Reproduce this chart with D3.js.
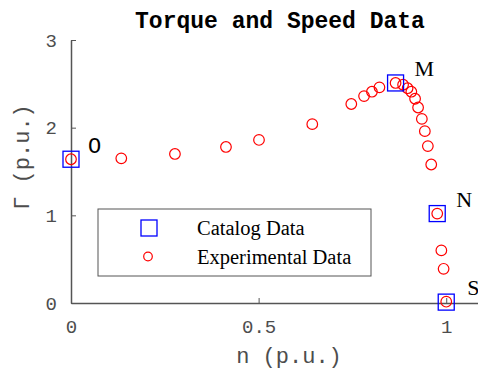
<!DOCTYPE html>
<html>
<head>
<meta charset="utf-8">
<script src="https://cdn.jsdelivr.net/npm/d3@7"></script>
<style>
  body { margin: 0; background: #fff; }
  svg { display: block; }
</style>
</head>
<body>
<div class="canvas"></div>
<script>
// experimental measurements (speed n, torque Γ, both p.u.)
const expSpeed = [0, 0.134, 0.277, 0.413, 0.501, 0.643, 0.747, 0.781, 0.802, 0.822,
                  0.865, 0.885, 0.897, 0.907, 0.917, 0.925, 0.935, 0.943, 0.951, 0.960,
                  0.976, 0.987, 0.993, 1.0];
const expTorque = [1.64, 1.65, 1.70, 1.78, 1.86, 2.04, 2.27, 2.36, 2.41, 2.46,
                   2.51, 2.49, 2.45, 2.41, 2.33, 2.23, 2.10, 1.96, 1.79, 1.58,
                   1.02, 0.60, 0.39, 0.015];
// catalog points O, M, N, S
const catNames = ['O', 'M', 'N', 'S'];
const catSpeed = [0, 0.865, 0.976, 1.0];
const catTorque = [1.64, 2.51, 1.02, 0.01];
const xTicks = [0, 0.5, 1];
const yTicks = [0, 1, 2, 3];

const W = 478, H = 372;
const mono = "'Liberation Mono', 'Courier New', monospace";
const serif = "'Liberation Serif', 'Times New Roman', serif";

const svg = d3.select('.canvas').append('svg')
    .attr('width', W)
    .attr('height', H);

// x axis runs off the right edge like the original
const x = d3.scaleLinear().domain([0, 1.09]).range([71, 480]);
const y = d3.scaleLinear().domain([0, 3]).range([303, 40]);

const xAxis = svg.append('g')
    .attr('transform', `translate(0,${y(0)})`)
    .call(d3.axisBottom(x).tickValues(xTicks).tickFormat(d3.format('')).tickSizeInner(-5).tickSizeOuter(0).tickPadding(17));
const yAxis = svg.append('g')
    .attr('transform', `translate(${x(0)},0)`)
    .call(d3.axisLeft(y).tickValues(yTicks).tickFormat(d3.format('')).tickSizeInner(-5).tickSizeOuter(0).tickPadding(14));

[xAxis, yAxis].forEach(a => {
  a.select('.domain').attr('stroke', '#555').attr('stroke-width', 1.5);
  a.selectAll('.tick line').attr('stroke', '#555').attr('stroke-width', 1);
  a.selectAll('.tick text')
      .attr('fill', '#4d4d4d')
      .style('font-family', mono)
      .style('font-size', '19px');
});

// experimental data
svg.append('g').selectAll('circle')
  .data(expSpeed)
  .join('circle')
    .attr('cx', d => x(d))
    .attr('cy', (d, i) => y(expTorque[i]))
    .attr('r', 5.3)
    .attr('fill', 'none')
    .attr('stroke', '#ff0000')
    .attr('stroke-width', 1.2);

// catalog data
svg.append('g').selectAll('rect')
  .data(catSpeed)
  .join('rect')
    .attr('x', d => x(d) - 8)
    .attr('y', (d, i) => y(catTorque[i]) - 8)
    .attr('width', 16)
    .attr('height', 16)
    .attr('fill', 'none')
    .attr('stroke', '#0000ff')
    .attr('stroke-width', 1.3);

// point labels
const labelOffset = [[17, -6], [19, -7], [19, -7], [21, -7]];
svg.append('g').selectAll('text')
  .data(catNames)
  .join('text')
    .attr('x', (d, i) => x(catSpeed[i]) + labelOffset[i][0])
    .attr('y', (d, i) => y(catTorque[i]) + labelOffset[i][1])
    .attr('fill', '#000')
    .style('font-family', (d, i) => i === 0 ? mono : serif)
    .style('font-size', '22px')
    .text(d => d);

// title and axis labels
svg.append('text')
    .attr('x', 280)
    .attr('y', 28)
    .attr('text-anchor', 'middle')
    .style('font-family', mono)
    .style('font-weight', 'bold')
    .style('font-size', '23px')
    .text('Torque and Speed Data');

svg.append('text')
    .attr('x', 289)
    .attr('y', 363)
    .attr('text-anchor', 'middle')
    .attr('fill', '#4d4d4d')
    .style('font-family', mono)
    .style('font-size', '22px')
    .text('n (p.u.)');

svg.append('text')
    .attr('transform', 'translate(29,157) rotate(-90)')
    .attr('text-anchor', 'middle')
    .attr('fill', '#4d4d4d')
    .style('font-family', mono)
    .style('font-size', '22px')
    .text('Γ (p.u.)');

// legend
const legend = svg.append('g');
legend.append('rect')
    .attr('x', 98).attr('y', 209)
    .attr('width', 273).attr('height', 67)
    .attr('fill', '#fff')
    .attr('stroke', '#555')
    .attr('stroke-width', 1);
legend.append('rect')
    .attr('x', 141).attr('y', 220)
    .attr('width', 16).attr('height', 16)
    .attr('fill', 'none')
    .attr('stroke', '#0000ff')
    .attr('stroke-width', 1.3);
legend.append('circle')
    .attr('cx', 148).attr('cy', 256.5)
    .attr('r', 4.3)
    .attr('fill', 'none')
    .attr('stroke', '#ff0000')
    .attr('stroke-width', 1.2);
legend.append('text')
    .attr('x', 197).attr('y', 235)
    .style('font-family', serif)
    .style('font-size', '20.5px')
    .text('Catalog Data');
legend.append('text')
    .attr('x', 197).attr('y', 264)
    .style('font-family', serif)
    .style('font-size', '20.5px')
    .text('Experimental Data');
</script>
</body>
</html>
